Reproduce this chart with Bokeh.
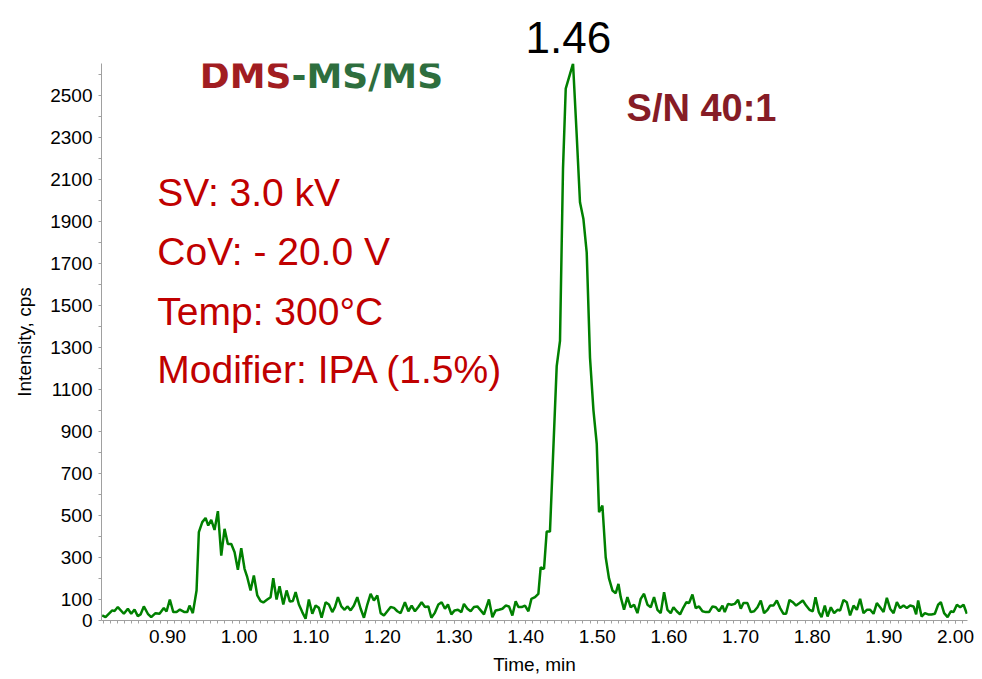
from bokeh.plotting import figure
from bokeh.models import FixedTicker, Label, Range1d, NumeralTickFormatter, ColumnDataSource
from bokeh.embed import file_html
from bokeh.resources import INLINE

# ---- data ----
time_min = [
    0.8088, 0.8134, 0.8228, 0.8260, 0.8306, 0.8390, 0.8446, 0.8493, 0.8539, 0.8585,
    0.8623, 0.8669, 0.8725, 0.8772, 0.8832, 0.8888, 0.8948, 0.8986, 0.9032, 0.9080,
    0.9126, 0.9172, 0.9237, 0.9275, 0.9307, 0.9353, 0.9405, 0.9437, 0.9485, 0.9531,
    0.9568, 0.9610, 0.9656, 0.9703, 0.9750, 0.9796, 0.9842, 0.9890, 0.9936, 0.9982,
    1.0029, 1.0075, 1.0113, 1.0159, 1.0205, 1.0253, 1.0299, 1.0337, 1.0392, 1.0439,
    1.0476, 1.0522, 1.0564, 1.0616, 1.0662, 1.0708, 1.0750, 1.0788, 1.0834, 1.0881,
    1.0927, 1.0973, 1.1021, 1.1067, 1.1113, 1.1151, 1.1207, 1.1253, 1.1300, 1.1337,
    1.1379, 1.1426, 1.1472, 1.1510, 1.1556, 1.1602, 1.1649, 1.1696, 1.1742, 1.1789,
    1.1835, 1.1881, 1.1929, 1.1975, 1.2021, 1.2068, 1.2115, 1.2161, 1.2208, 1.2254,
    1.2314, 1.2362, 1.2408, 1.2454, 1.2501, 1.2547, 1.2594, 1.2641, 1.2683, 1.2729,
    1.2781, 1.2827, 1.2873, 1.2915, 1.2962, 1.3008, 1.3054, 1.3102, 1.3138, 1.3186,
    1.3232, 1.3278, 1.3325, 1.3372, 1.3418, 1.3487, 1.3535, 1.3581, 1.3627, 1.3675,
    1.3721, 1.3767, 1.3814, 1.3860, 1.3898, 1.3944, 1.3990, 1.4038, 1.4080, 1.4130,
    1.4177, 1.4209, 1.4256, 1.4293, 1.4339, 1.4433, 1.4479, 1.4521, 1.4559, 1.4610,
    1.4661, 1.4712, 1.4758, 1.4806, 1.4852, 1.4898, 1.4946, 1.4992, 1.5024, 1.5071,
    1.5117, 1.5163, 1.5211, 1.5257, 1.5295, 1.5327, 1.5373, 1.5420, 1.5466, 1.5513,
    1.5560, 1.5606, 1.5652, 1.5700, 1.5746, 1.5792, 1.5839, 1.5885, 1.5932, 1.5979,
    1.6025, 1.6063, 1.6109, 1.6155, 1.6203, 1.6244, 1.6281, 1.6328, 1.6374, 1.6420,
    1.6468, 1.6514, 1.6560, 1.6608, 1.6654, 1.6700, 1.6747, 1.6779, 1.6825, 1.6873,
    1.6919, 1.6965, 1.7003, 1.7040, 1.7096, 1.7142, 1.7189, 1.7236, 1.7282, 1.7328,
    1.7376, 1.7412, 1.7459, 1.7506, 1.7552, 1.7599, 1.7636, 1.7683, 1.7729, 1.7775,
    1.7823, 1.7869, 1.7915, 1.7962, 1.8008, 1.8046, 1.8092, 1.8130, 1.8176, 1.8214,
    1.8260, 1.8306, 1.8353, 1.8390, 1.8437, 1.8483, 1.8529, 1.8577, 1.8623, 1.8669,
    1.8716, 1.8763, 1.8809, 1.8856, 1.8902, 1.8948, 1.8996, 1.9042, 1.9088, 1.9136,
    1.9182, 1.9228, 1.9275, 1.9321, 1.9367, 1.9415, 1.9451, 1.9479, 1.9527, 1.9573,
    1.9619, 1.9666, 1.9712, 1.9758, 1.9796, 1.9842, 1.9890, 1.9936, 1.9973, 2.0020,
    2.0066, 2.0113, 2.0159,
]
intensity_cps = [
    24, 16, 48, 45, 64, 32, 56, 32, 52, 21,
    29, 67, 32, 16, 35, 32, 60, 43, 100, 40,
    40, 52, 40, 40, 71, 35, 143, 420, 468, 488,
    452, 479, 431, 520, 309, 436, 364, 364, 325, 241,
    344, 246, 206, 143, 214, 119, 92, 86, 100, 111,
    201, 100, 163, 76, 143, 90, 93, 135, 76, 40,
    8, 100, 32, 71, 60, 13, 87, 76, 40, 64,
    111, 67, 51, 67, 48, 71, 111, 56, 13, 76,
    127, 95, 119, 35, 24, 44, 64, 60, 44, 35,
    87, 44, 71, 44, 64, 87, 64, 67, 13, 35,
    76, 87, 56, 76, 29, 48, 51, 40, 79, 56,
    44, 64, 67, 48, 29, 100, 16, 48, 51, 56,
    71, 67, 24, 92, 64, 64, 71, 44, 103, 111,
    127, 253, 246, 423, 423, 1210, 1330, 2150, 2530, 2590,
    2650, 2310, 1990, 1910, 1750, 1250, 1000, 840, 515, 547,
    301, 200, 143, 130, 174, 111, 51, 111, 63, 75,
    35, 103, 127, 75, 63, 111, 51, 35, 135, 51,
    35, 63, 44, 29, 63, 87, 83, 124, 59, 67,
    44, 40, 40, 67, 63, 44, 71, 40, 79, 75,
    79, 98, 56, 83, 83, 40, 44, 63, 95, 35,
    51, 71, 71, 95, 59, 32, 32, 98, 87, 71,
    83, 95, 71, 51, 44, 111, 40, 16, 71, 19,
    63, 35, 51, 48, 98, 87, 24, 71, 51, 103,
    35, 51, 51, 32, 83, 63, 40, 108, 56, 35,
    87, 59, 71, 59, 71, 67, 29, 95, 19, 35,
    29, 29, 32, 75, 87, 35, 16, 44, 40, 75,
    63, 75, 32,
]

x_tick_values = [0.90, 1.00, 1.10, 1.20, 1.30, 1.40, 1.50, 1.60, 1.70, 1.80, 1.90, 2.00]
x_minor_ticks = [round(0.81 + 0.01 * i, 2) for i in range(121)]
y_tick_values = [0, 100, 300, 500, 700, 900, 1100, 1300, 1500, 1700, 1900, 2100, 2300, 2500]
y_minor_ticks = [200, 400, 600, 800, 1000, 1200, 1400, 1600, 1800, 2000, 2200, 2400, 2600]

peak_label = "1.46"
method_lines = ["SV: 3.0 kV", "CoV: - 20.0 V", "Temp: 300°C", "Modifier: IPA (1.5%)"]

source = ColumnDataSource(dict(t=time_min, i=intensity_cps))

p = figure(width=982, height=679,
           x_range=Range1d(0.8078, 2.0168), y_range=Range1d(0, 2650),
           output_backend="svg", toolbar_location=None,
           min_border_left=101, min_border_right=15,
           min_border_top=63, min_border_bottom=59)
p.outline_line_color = None
p.xgrid.visible = False
p.ygrid.visible = False
p.background_fill_color = "white"
p.border_fill_color = "white"

# peak retention-time label sits above the frame, in the title slot
p.title.text = peak_label
p.title.align = "left"
p.title.offset = 424
p.title.text_font = "Liberation Sans"
p.title.text_font_size = "44px"
p.title.text_font_style = "normal"
p.title.text_color = "black"
p.title.standoff = 22

p.line("t", "i", source=source, line_color="#008000", line_width=2.5)

FONT = "Liberation Sans"
axis_gray = "#a0a0a0"

p.xaxis.ticker = FixedTicker(ticks=x_tick_values, minor_ticks=x_minor_ticks)
p.xaxis.formatter = NumeralTickFormatter(format="0.00")
p.yaxis.ticker = FixedTicker(ticks=y_tick_values, minor_ticks=y_minor_ticks)

for ax in (p.xaxis[0], p.yaxis[0]):
    ax.axis_line_color = axis_gray
    ax.major_tick_line_color = axis_gray
    ax.minor_tick_line_color = axis_gray
    ax.major_tick_in = 0
    ax.minor_tick_in = 0
    ax.major_tick_out = 3
    ax.minor_tick_out = 3
    ax.major_label_text_font = FONT
    ax.major_label_text_font_size = "19px"
    ax.major_label_text_color = "black"
    ax.major_label_standoff = 6
    ax.axis_label_text_font = FONT
    ax.axis_label_text_font_size = "19px"
    ax.axis_label_text_font_style = "normal"
    ax.axis_label_text_color = "black"

p.xaxis.axis_label = "Time, min"
p.xaxis.axis_label_standoff = 8
p.yaxis.axis_label = "Intensity, cps"
p.yaxis.axis_label_standoff = 12

# annotations (positions in data units of the chart)
p.add_layout(Label(x=1.073, y=2592, text="DMS", text_align="right",
                   text_baseline="alphabetic", text_font="DejaVu Sans",
                   text_font_style="bold", text_font_size="36px", text_color="#a11d21"))
p.add_layout(Label(x=1.073, y=2592, text="-MS/MS", text_align="left",
                   text_baseline="alphabetic", text_font="DejaVu Sans",
                   text_font_style="bold", text_font_size="36px", text_color="#2e6e3e"))

p.add_layout(Label(x=1.5408, y=2436, text="S/N 40:1", text_align="left",
                   text_baseline="alphabetic", text_font=FONT,
                   text_font_style="bold", text_font_size="38px", text_color="#861c26"))

line_y = [2037, 1755, 1471, 1194]
for txt, yy in zip(method_lines, line_y):
    p.add_layout(Label(x=0.8857, y=yy, text=txt, text_align="left",
                       text_baseline="alphabetic", text_font=FONT,
                       text_font_size="39px", text_color="#c00000"))

open("out.html", "w").write(file_html(p, INLINE))
